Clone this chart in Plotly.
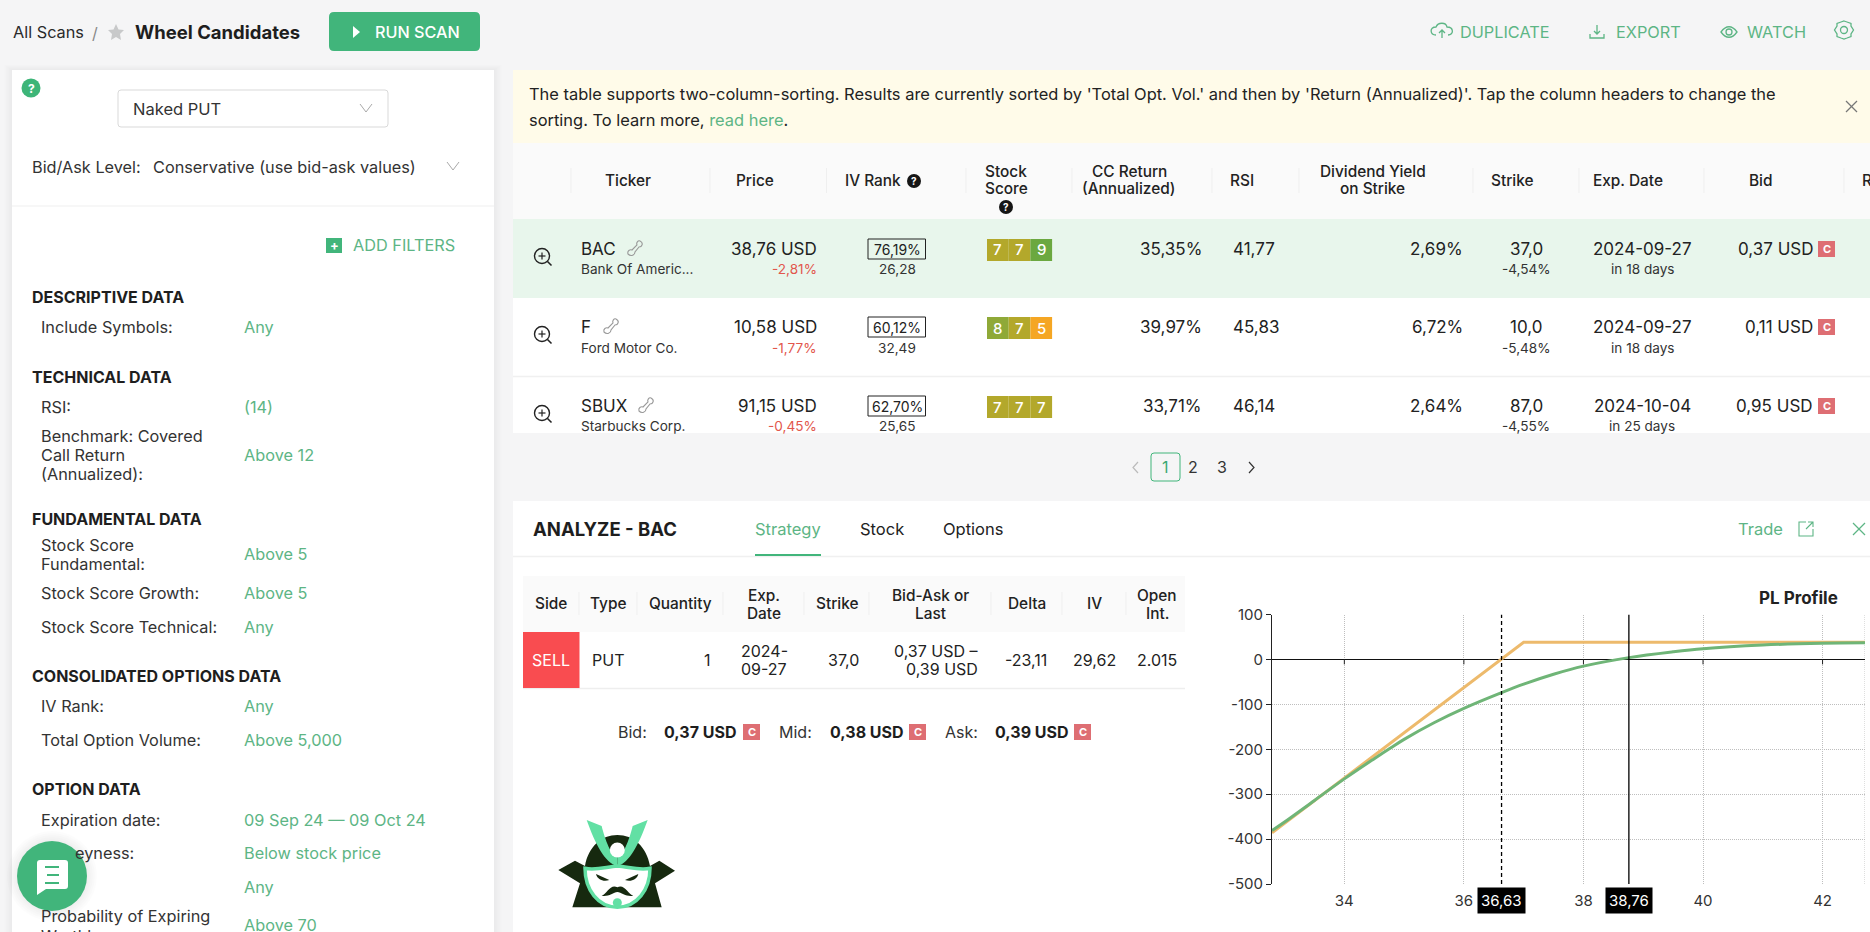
import plotly.graph_objects as go

W = 1870
H = 932

# PL profile chart values
x_ticks = [34, 36, 38, 40, 42]
x_tick_labels = ["34", "36", "38", "40", "42"]
y_ticks = [100, 0, -100, -200, -300, -400, -500]
y_tick_labels = ["100", "0", "-100", "-200", "-300", "-400", "-500"]
expiry_x = [32.79, 37.0, 42.71]
expiry_pl = [-386, 38, 38]
today_x = [32.79, 33.0, 33.5, 34.0, 34.5, 34.74, 35.0, 35.5, 36.0, 36.63, 37.0, 37.5, 38.0, 38.76, 39.5, 40.0, 41.0, 42.0, 42.71]
today_pl = [-381, -362, -314, -266, -221, -200, -178, -141, -109, -74, -55, -33, -15, 4, 17, 24, 32, 36, 37]
breakeven = 36.63
stock_price = 38.76

# scanner table
tickers = ["BAC", "F", "SBUX"]
companies = ["Bank Of Americ...", "Ford Motor Co.", "Starbucks Corp."]
prices = ["38,76 USD", "10,58 USD", "91,15 USD"]
price_changes = ["-2,81%", "-1,77%", "-0,45%"]
iv_ranks = ["76,19%", "60,12%", "62,70%"]
iv_values = ["26,28", "32,49", "25,65"]
stock_scores = [[7, 7, 9], [8, 7, 5], [7, 7, 7]]
cc_returns = ["35,35%", "39,97%", "33,71%"]
rsi_values = ["41,77", "45,83", "46,14"]
dividend_yields = ["2,69%", "6,72%", "2,64%"]
strikes = ["37,0", "10,0", "87,0"]
strike_distance = ["-4,54%", "-5,48%", "-4,55%"]
exp_dates = ["2024-09-27", "2024-09-27", "2024-10-04"]
exp_days = ["in 18 days", "in 18 days", "in 25 days"]
bids = ["0,37 USD", "0,11 USD", "0,95 USD"]

GREEN = "#5DB585"
BTN = "#41B57B"
INK = "#222222"
RED_C = "#DE6E73"
score_colors = {5: "#F5A623", 7: "#B3A82B", 8: "#8FA938", 9: "#6BA840"}

LABEL = 16.3
MAIN = 17
SUB = 13.6
HEAD = 15.4
LEG = 16

shapes = []
notes = []


def X(v):
    return v / W


def Y(v):
    return 1 - v / H


def rect(x0, y0, x1, y1, fill, line=None, lw=1):
    shapes.append(dict(type="rect", xref="paper", yref="paper", layer="below",
                       x0=X(x0), x1=X(x1), y0=Y(y0), y1=Y(y1), fillcolor=fill,
                       line=dict(color=line or "rgba(0,0,0,0)", width=lw if line else 0)))


def seg(x0, y0, x1, y1, color, lw=1):
    shapes.append(dict(type="line", xref="paper", yref="paper", layer="below",
                       x0=X(x0), x1=X(x1), y0=Y(y0), y1=Y(y1), line=dict(color=color, width=lw)))


def circle(cx, cy, r, fill="rgba(0,0,0,0)", line=None, lw=1):
    shapes.append(dict(type="circle", xref="paper", yref="paper", layer="below",
                       x0=X(cx - r), x1=X(cx + r), y0=Y(cy - r), y1=Y(cy + r), fillcolor=fill,
                       line=dict(color=line or "rgba(0,0,0,0)", width=lw if line else 0)))


def path(d, fill="rgba(0,0,0,0)", line=None, lw=1, ox=0, oy=0, s=1):
    # absolute M/L/C/Q/Z commands in page pixels, converted to paper units
    out = []
    is_x = True
    for tok in d.split():
        if tok.isalpha():
            out.append(tok)
            is_x = True
        elif is_x:
            out.append(str(X(ox + float(tok) * s)))
            is_x = False
        else:
            out.append(str(Y(oy + float(tok) * s)))
            is_x = True
    shapes.append(dict(type="path", xref="paper", yref="paper", layer="below", path=" ".join(out),
                       fillcolor=fill, line=dict(color=line or "rgba(0,0,0,0)", width=lw if line else 0)))


def rrect(x0, y0, x1, y1, r, fill, line=None, lw=1):
    d = (f"M {x0 + r} {y0} L {x1 - r} {y0} Q {x1} {y0} {x1} {y0 + r} L {x1} {y1 - r} Q {x1} {y1} {x1 - r} {y1} "
         f"L {x0 + r} {y1} Q {x0} {y1} {x0} {y1 - r} L {x0} {y0 + r} Q {x0} {y0} {x0 + r} {y0} Z")
    path(d, fill, line, lw)


def text(x, y, s, size=15, color=INK, anchor="left", weight=400, align=None):
    notes.append(dict(xref="paper", yref="paper", x=X(x), y=Y(y), text=s, showarrow=False,
                      xanchor=anchor, yanchor="middle", align=align or anchor, borderpad=0, borderwidth=0,
                      font=dict(size=size, color=color, weight=weight, family="Inter")))


def chevron(cx, cy, color="#A9A9A9"):
    path(f"M {cx - 6} {cy - 4} L {cx} {cy + 4} L {cx + 6} {cy - 4}", line=color, lw=1)


def cross(cx, cy, r, color, lw=1.2):
    seg(cx - r, cy - r, cx + r, cy + r, color, lw)
    seg(cx - r, cy + r, cx + r, cy - r, color, lw)


def help_icon(cx, cy):
    circle(cx, cy, 7, "#151515")
    text(cx, cy, "?", 10, "#FFFFFF", "center", 700)


def c_badge(x0, y0):
    rect(x0, y0, x0 + 17, y0 + 16, RED_C)
    text(x0 + 8.5, y0 + 8, "C", 11, "#FFFFFF", "center", 700)


# page background shadows
for i in range(1, 6):
    rect(12 - i * 1.5, 70 - i, 494 + i * 1.5, 940, "rgba(0,0,0,0.006)")
rect(12, 70, 494, 932, "#FFFFFF")

# top bar
text(13, 32, "All Scans", LABEL, "#2A2A2A")
text(95, 33, "/", 16, "#888888", "center")
path("M 116 24 L 118.5 29.5 L 124 30 L 120 34 L 121 40 L 116 37 L 111 40 L 112 34 L 108 30 L 113.5 29.5 Z", "#C8C9CA")
text(135, 32, "Wheel Candidates", 18.5, "#1E1E1E", weight=700)
rrect(329, 12, 480, 51, 5, BTN)
path("M 353 26 L 360 32 L 353 38 Z", "#FFFFFF")
text(375, 32, "RUN SCAN", 16.2, "#FFFFFF", weight=500)

# top right actions
path("M 1436 35 C 1430 35 1429 27 1436 27 C 1438 22 1446 22 1447 27 C 1454 27 1454 35 1448 35", line=GREEN, lw=1.3)
path("M 1442 38 L 1442 30 M 1439 33 L 1442 30 L 1445 33", line=GREEN, lw=1.3)
text(1460, 32, "DUPLICATE", LABEL, GREEN)
path("M 1597 25 L 1597 34 M 1594 31 L 1597 34 L 1600 31 M 1590 34 L 1590 38 L 1604 38 L 1604 34", line=GREEN, lw=1.3)
text(1616, 32, "EXPORT", LABEL, GREEN)
path("M 1721 32 C 1726 25 1732 25 1737 32 C 1732 39 1726 39 1721 32 Z", line=GREEN, lw=1.3)
circle(1729, 32, 3, line=GREEN, lw=1.3)
text(1747, 32, "WATCH", LABEL, GREEN)
path("M 1844 21 L 1847 22 L 1851 23.5 L 1851 26 L 1853.5 30 L 1851 34 L 1851 36.5 L 1847 38 L 1844 39 L 1841 38 "
     "L 1837 36.5 L 1837 34 L 1834.5 30 L 1837 26 L 1837 23.5 L 1841 22 Z", line=GREEN, lw=1.3)
circle(1844, 30, 3.5, line=GREEN, lw=1.3)

# left panel
circle(31, 88, 9.5, "#3DB578")
text(31, 88, "?", 12, "#FFFFFF", "center", 700)
rrect(118, 90, 388, 127, 3, "#FFFFFF", "#D9D9D9")
text(133, 109, "Naked PUT", 16.5, "#333333")
chevron(366, 108)
text(32, 167, "Bid/Ask Level:", LABEL, "#333333")
text(153, 167, "Conservative (use bid-ask values)", LABEL, "#333333")
chevron(453, 166)
seg(12, 206, 494, 206, "#EFEFEF")
rect(326, 238, 342, 253, "#41B57B")
text(334, 245.5, "+", 13, "#FFFFFF", "center", 700)
text(353, 245, "ADD FILTERS", LABEL, GREEN)

sections = [("DESCRIPTIVE DATA", 297), ("TECHNICAL DATA", 377), ("FUNDAMENTAL DATA", 519),
            ("CONSOLIDATED OPTIONS DATA", 676), ("OPTION DATA", 789)]
for label, y in sections:
    text(32, y, label, 16, "#1E1E1E", weight=700)

filter_labels = [("Include Symbols:", 327), ("RSI:", 407), ("Benchmark: Covered", 436), ("Call Return", 455),
                 ("(Annualized):", 474), ("Stock Score", 545), ("Fundamental:", 564), ("Stock Score Growth:", 593),
                 ("Stock Score Technical:", 627), ("IV Rank:", 706), ("Total Option Volume:", 740),
                 ("Expiration date:", 820), ("Probability of Expiring", 916), ("Worthless:", 936)]
for label, y in filter_labels:
    text(41, y, label, LABEL, "#333333")
text(134, 853, "eyness:", LABEL, "#333333", "right")

filter_values = [("Any", 327), ("(14)", 407), ("Above 12", 455), ("Above 5", 554), ("Above 5", 593), ("Any", 627),
                 ("Any", 706), ("Above 5,000", 740), ("09 Sep 24 — 09 Oct 24", 820), ("Below stock price", 853),
                 ("Any", 887), ("Above 70", 925)]
for label, y in filter_values:
    text(244, y, label, LABEL, GREEN)

# chat bubble
for i in range(1, 6):
    circle(52, 876, 35 + i * 2, "rgba(0,0,0,0.012)")
circle(52, 876, 35, "#41B57B")
path("M 40 860 L 65 860 Q 68 860 68 863 L 68 886 Q 68 889 65 889 L 46 889 L 37 895 L 37 863 Q 37 860 40 860 Z", "#FFFFFF")
seg(45, 867, 59, 867, "#41B57B", 2)
seg(47, 875, 59, 875, "#41B57B", 2)
seg(45, 883, 59, 883, "#41B57B", 2)

# banner
rect(513, 70, 1870, 143, "#FFFBE9")
text(529, 94, "The table supports two-column-sorting. Results are currently sorted by 'Total Opt. Vol.' and then by "
     "'Return (Annualized)'. Tap the column headers to change the", 16.45, "#222222")
text(529, 120, f"sorting. To learn more, <span style=\"color:{GREEN}\">read here</span>.", 16.45, "#222222")
cross(1851.5, 106.5, 5.5, "#777777")

# results table
rect(513, 143, 1870, 433, "#FFFFFF")
rect(513, 143, 1870, 219, "#FAFAFA")
rect(513, 219, 1870, 298, "#E8F6EC")
seg(513, 376.5, 1870, 376.5, "#F0F0F0", 1.5)

for sx in [571, 710, 826.5, 966, 1072, 1212, 1299, 1473, 1579, 1704, 1844]:
    seg(sx, 168, sx, 193, "#EFEFEF")

text(628, 181, "Ticker", HEAD, INK, "center", 500)
text(755, 181, "Price", HEAD, INK, "center", 500)
text(873, 181, "IV Rank", HEAD, INK, "center", 500)
help_icon(914, 181)
text(1006, 172, "Stock", HEAD, INK, "center", 500)
text(1006, 189, "Score", HEAD, INK, "center", 500)
help_icon(1006, 207)
text(1129, 172, "CC Return", HEAD, INK, "center", 500)
text(1129, 189, "(Annualized)", HEAD, INK, "center", 500)
text(1242, 181, "RSI", HEAD, INK, "center", 500)
text(1372.5, 172, "Dividend Yield", HEAD, INK, "center", 500)
text(1372.5, 189, "on Strike", HEAD, INK, "center", 500)
text(1512.5, 181, "Strike", HEAD, INK, "center", 500)
text(1628, 181, "Exp. Date", HEAD, INK, "center", 500)
text(1761, 181, "Bid", HEAD, INK, "center", 500)
text(1862, 181, "R", HEAD, INK, "left", 500)

row_main = [249, 327, 406]
row_sub = [269, 348, 426]
phone_x = [635, 611, 646]
for i in range(3):
    y = row_main[i]
    sub = row_sub[i]
    # magnifier
    circle(542, y + 7, 7.5, line="#222222", lw=1.4)
    seg(547.5, y + 12.5, 551.5, y + 16.5, "#222222", 1.6)
    seg(538.5, y + 7, 545.5, y + 7, "#222222", 1.2)
    seg(542, y + 3.5, 542, y + 10.5, "#222222", 1.2)
    text(581, y, tickers[i], MAIN, "#222222")
    px = phone_x[i]
    path(f"M {px + 5} {y - 8} C {px + 9} {y - 6} {px + 7} {y - 2} {px + 4} {y - 2} L {px} {y + 3} "
         f"C {px} {y + 6} {px - 4} {y + 8} {px - 7} {y + 5} C {px - 8} {y + 2} {px - 5} {y} {px - 3} {y + 1} "
         f"L {px + 2} {y - 4} C {px + 1} {y - 6} {px + 3} {y - 9} {px + 5} {y - 8} Z", line="#999999", lw=1.1)
    text(581, sub, companies[i], SUB, "#333333")
    text(817, y, prices[i], MAIN, "#222222", "right")
    text(817, sub, price_changes[i], SUB, "#E2574C", "right")
    rect(868, y - 10, 925.5, y + 10, "rgba(0,0,0,0)", "#222222", 1)
    text(897, y + 0.5, iv_ranks[i], 14, "#222222", "center")
    text(897, sub, iv_values[i], SUB, "#333333", "center")
    for j, score in enumerate(stock_scores[i]):
        cx0 = 987 + j * 21.7
        rect(cx0, y - 10, cx0 + 21.7, y + 12, score_colors[score])
        text(cx0 + 10.8, y + 1, str(score), 15, "#FFFFFF", "center", 500)
    text(1202, y, cc_returns[i], MAIN, "#222222", "right")
    text(1232.5, y, rsi_values[i], MAIN, "#222222")
    text(1463, y, dividend_yields[i], MAIN, "#222222", "right")
    text(1526, y, strikes[i], MAIN, "#222222", "center")
    text(1526, sub, strike_distance[i], SUB, "#333333", "center")
    text(1642, y, exp_dates[i], MAIN, "#222222", "center")
    text(1642, sub, exp_days[i], SUB, "#333333", "center")
    text(1813, y, bids[i], MAIN, "#222222", "right")
    c_badge(1818, y - 8)

# pager
path("M 1138 462 L 1133 467.5 L 1138 473", line="#BBBBBB", lw=1.2)
rrect(1151, 453, 1180, 481, 3, "rgba(0,0,0,0)", "#41B57B", 1)
text(1165.5, 467, "1", 16, "#3AA873", "center")
text(1193, 467, "2", 16, "#333333", "center")
text(1222, 467, "3", 16, "#333333", "center")
path("M 1249 462 L 1254 467.5 L 1249 473", line="#333333", lw=1.2)

# analyze panel
rect(513, 501, 1870, 940, "#FFFFFF")
seg(513, 556.5, 1870, 556.5, "#F0F0F0", 1.5)
text(533, 529, "ANALYZE - BAC", 18.5, "#1E1E1E", weight=700)
text(788, 529, "Strategy", 16.5, GREEN, "center")
rect(755, 554, 821, 556, "#41B57B")
text(882, 529, "Stock", 16.5, "#222222", "center")
text(973, 529, "Options", 16.5, "#222222", "center")
text(1738, 529, "Trade", 16.5, GREEN)
path("M 1806 522 L 1799 522 L 1799 536 L 1813 536 L 1813 529 M 1806 529 L 1813 522 M 1808 522 L 1813 522 L 1813 527", line=GREEN, lw=1.1)
cross(1859, 529, 6, GREEN, 1.3)

# strategy table
rect(523, 576, 1185, 632, "#FAFAFA")
seg(523, 688.5, 1185, 688.5, "#EEEEEE", 1.5)
for sx in [579, 637, 723, 804, 869, 991, 1062, 1126]:
    seg(sx, 592, sx, 615, "#EFEFEF")
text(551, 603, "Side", HEAD, INK, "center", 500)
text(608, 603, "Type", HEAD, INK, "center", 500)
text(680, 603, "Quantity", HEAD, INK, "center", 500)
text(764, 595, "Exp.", HEAD, INK, "center", 500)
text(764, 613, "Date", HEAD, INK, "center", 500)
text(837, 603, "Strike", HEAD, INK, "center", 500)
text(930, 595, "Bid-Ask or", HEAD, INK, "center", 500)
text(930, 613, "Last", HEAD, INK, "center", 500)
text(1027, 603, "Delta", HEAD, INK, "center", 500)
text(1094, 603, "IV", HEAD, INK, "center", 500)
text(1157, 595, "Open", HEAD, INK, "center", 500)
text(1157, 613, "Int.", HEAD, INK, "center", 500)

rect(523, 632, 579.5, 688, "#F94C50")
text(551, 660, "SELL", LEG, "#FFFFFF", "center")
text(608, 660, "PUT", LEG, "#222222", "center")
text(711, 660, "1", LEG, "#222222", "right")
text(764, 651, "2024-", LEG, "#222222", "center")
text(764, 669, "09-27", LEG, "#222222", "center")
text(859, 660, "37,0", LEG, "#222222", "right")
text(978, 651, "0,37 USD –", LEG, "#222222", "right")
text(978, 669, "0,39 USD", LEG, "#222222", "right")
text(1026, 660, "-23,11", LEG, "#222222", "center")
text(1094, 660, "29,62", LEG, "#222222", "center")
text(1157, 660, "2.015", LEG, "#222222", "center")

text(618, 732, "Bid:", LEG, "#333333")
text(664, 732, "0,37 USD", LEG, "#1E1E1E", weight=700)
c_badge(743, 724)
text(779, 732, "Mid:", LEG, "#333333")
text(830, 732, "0,38 USD", LEG, "#1E1E1E", weight=700)
c_badge(909, 724)
text(945, 732, "Ask:", LEG, "#333333")
text(995, 732, "0,39 USD", LEG, "#1E1E1E", weight=700)
c_badge(1074, 724)

# samurai logo, drawn in zoomed units
DARK = "#16290F"
MINT = "#62E0A4"
logo = dict(ox=540, oy=800, s=1 / 3)
path("M 55 210 L 105 182 L 135 198 C 145 140 185 105 232 105 C 280 105 320 140 330 198 L 358 182 L 405 212 "
     "L 345 250 L 365 322 L 97 322 L 120 250 Z", DARK, **logo)
path("M 135 205 C 170 212 200 200 232 198 C 265 200 295 212 330 205 C 330 270 290 322 232 322 "
     "C 175 322 135 270 135 205 Z", "#FFFFFF", MINT, 3.5, **logo)
path("M 140 60 L 185 78 C 195 120 215 170 232 172 L 232 198 C 195 190 165 130 140 60 Z", MINT, **logo)
path("M 323 60 L 278 78 C 268 120 248 170 232 172 L 232 198 C 268 190 298 130 323 60 Z", MINT, **logo)
circle(540 + 232 / 3, 800 + 150 / 3, 7.5, "#FFFFFF")
path("M 168 222 L 208 240 C 192 246 172 240 168 222 Z", DARK, **logo)
path("M 295 222 L 255 240 C 271 246 291 240 295 222 Z", DARK, **logo)
path("M 185 287 C 200 282 212 250 232 262 C 252 250 264 282 280 287 C 262 292 245 278 232 276 "
     "C 220 278 202 292 185 287 Z", DARK, **logo)
circle(540 + 232 / 3, 800 + 308 / 3, 4.5, MINT)

# PL profile chart
X_MIN = 32.79
X_MAX = 42.71
plot_shapes = []
for tick in x_ticks:
    plot_shapes.append(dict(type="line", xref="x", yref="y", x0=tick, x1=tick, y0=0, y1=-11,
                            line=dict(color="#222222", width=1)))
plot_shapes.append(dict(type="line", xref="x", yref="y", x0=X_MAX, x1=X_MAX, y0=-500, y1=100,
                        layer="below", line=dict(color="#BEBEBE", width=1, dash="1px,1px")))
plot_shapes.append(dict(type="line", xref="x", yref="y", x0=breakeven, x1=breakeven, y0=-500, y1=100,
                        line=dict(color="#000000", width=1.3, dash="4px,3px")))
plot_shapes.append(dict(type="line", xref="x", yref="y", x0=stock_price, x1=stock_price, y0=-500, y1=100,
                        line=dict(color="#000000", width=1.3)))

for value in [breakeven, stock_price]:
    notes.append(dict(xref="x", yref="paper", x=value, y=Y(900), text=f"{value:.2f}".replace(".", ","),
                      showarrow=False, xanchor="center", yanchor="middle", bgcolor="#000000", borderpad=3,
                      font=dict(size=15, color="#FFFFFF", family="Inter")))
text(1838, 598, "PL Profile", 17, "#222222", "right", 700)

fig = go.Figure()
fig.add_trace(go.Scatter(x=expiry_x, y=expiry_pl, mode="lines", name="At expiry", hoverinfo="skip",
                         line=dict(color="#EDBA6C", width=3)))
fig.add_trace(go.Scatter(x=today_x, y=today_pl, mode="lines", name="Today", hoverinfo="skip",
                         line=dict(color="#6FB577", width=3, shape="spline", smoothing=1)))

fig.update_layout(
    width=W,
    height=H,
    autosize=False,
    margin=dict(l=0, r=0, t=0, b=0, autoexpand=False),
    paper_bgcolor="#F5F5F6",
    plot_bgcolor="rgba(0,0,0,0)",
    showlegend=False,
    font=dict(family="Inter", size=14, color="#333333"),
    shapes=shapes + plot_shapes,
    annotations=notes,
    xaxis=dict(domain=[X(1272), X(1865)], range=[X_MIN, X_MAX], tickmode="array", tickvals=x_ticks,
               ticktext=x_tick_labels, showgrid=True, gridcolor="#BEBEBE", griddash="1px,1px", gridwidth=1,
               zeroline=False, showline=False, ticks="outside", ticklen=3, tickcolor="rgba(0,0,0,0)",
               tickfont=dict(size=15, color="#333333")),
    yaxis=dict(domain=[Y(884), Y(614.5)], range=[-500, 100], tickmode="array", tickvals=y_ticks,
               ticktext=y_tick_labels, showgrid=True, gridcolor="#BEBEBE", griddash="1px,1px", gridwidth=1,
               zeroline=True, zerolinecolor="#111111", zerolinewidth=1.3, showline=True, linecolor="#222222",
               linewidth=1, ticks="outside", ticklen=5, tickcolor="#222222", tickfont=dict(size=15, color="#333333")),
)

fig.write_html("out.html", config=dict(displayModeBar=False),
               post_script="document.body.style.margin='0';document.body.style.overflow='hidden';")
